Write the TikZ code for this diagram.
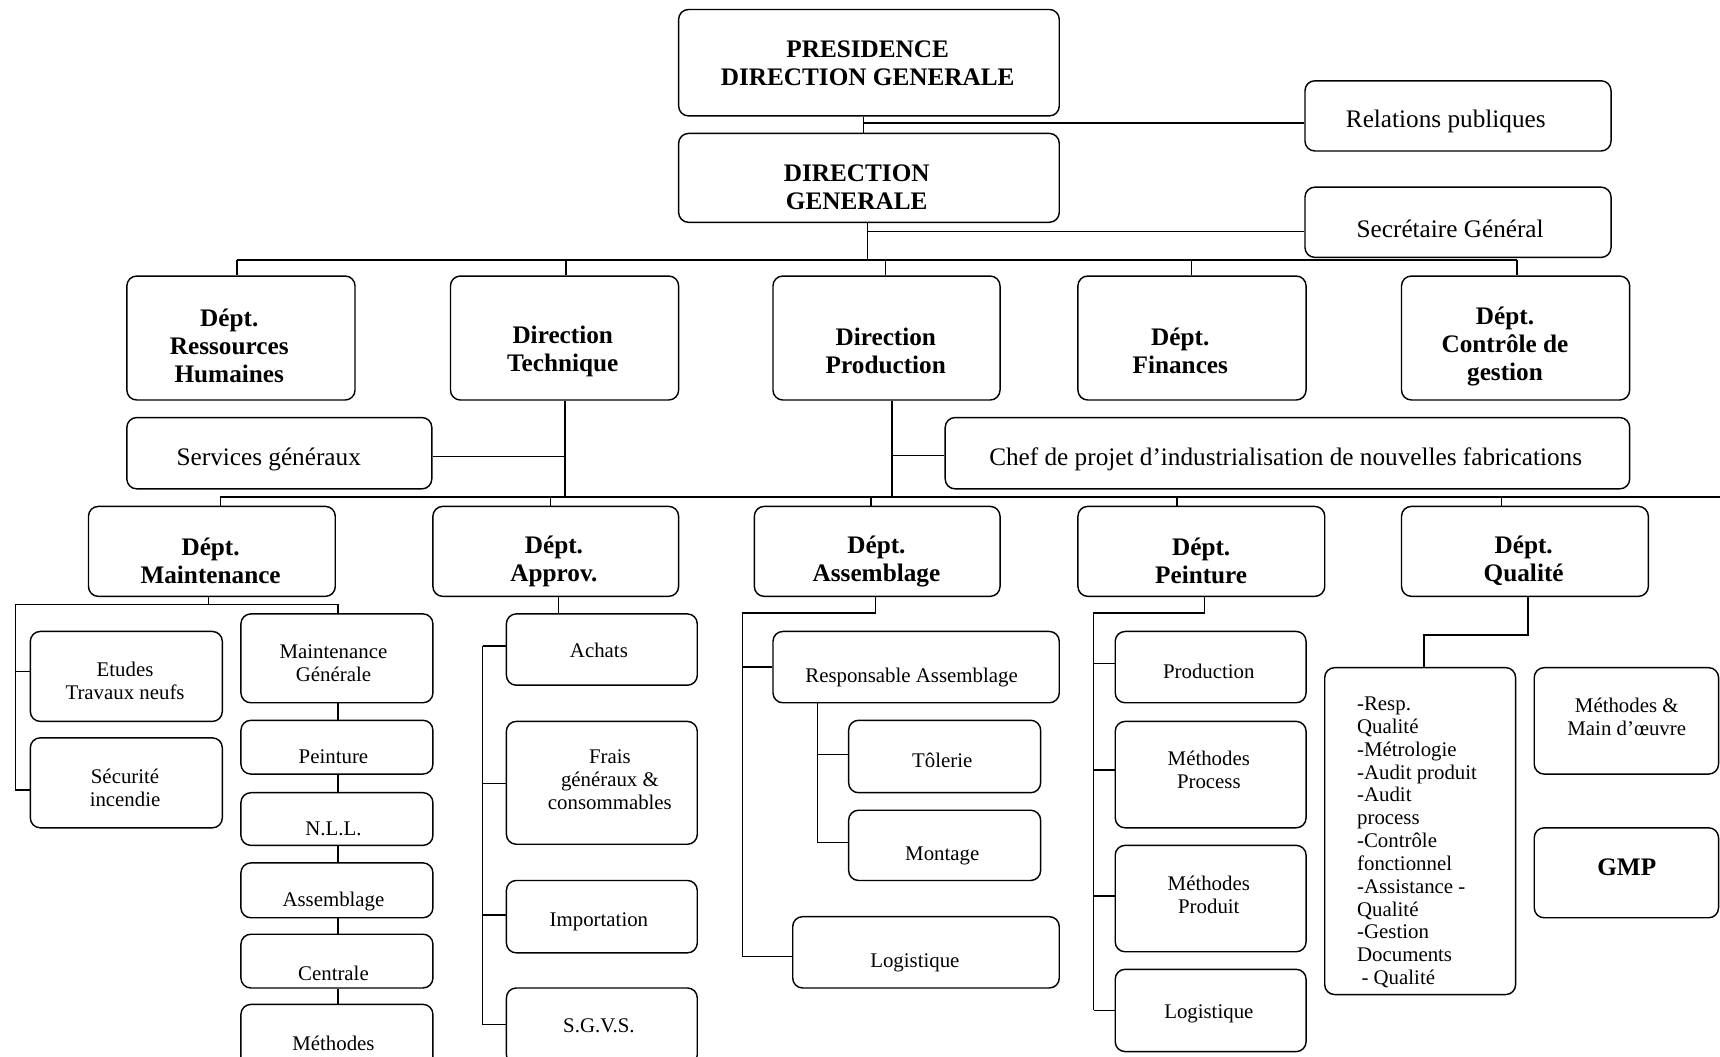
\documentclass[tikz,border=0pt]{standalone}
\usepackage{fontspec}
\setmainfont{Liberation Serif}
\newcommand\bx[5]{\node[boxst, minimum width=#4-#2, minimum height=#5-#3] (#1) at (#2,#3) {};}
\tikzset{
  boxst/.style={draw, line width=1.3pt, rounded corners=9pt, inner sep=0pt, anchor=north west},
  bigb/.style={font=\fontsize{23}{25.5}\selectfont\bfseries, align=center, inner sep=0pt},
  med/.style={font=\fontsize{23}{25}\selectfont, align=center, inner sep=0pt},
  sml/.style={font=\fontsize{19}{21}\selectfont, align=center, inner sep=0pt},
  ln/.style={line width=1.3pt}
}
\begin{document}
\begin{tikzpicture}[x=1pt,y=-1pt]
\useasboundingbox (0,0) rectangle (1568,963);
\clip (0,0) rectangle (1568,963);
% boxes
\bx{pres}{618}{8}{965}{105}
\bx{dg}{618}{121}{965}{202}
\bx{rp}{1189}{73}{1468}{137}
\bx{sg}{1189}{170}{1468}{234}
\bx{rh}{115}{251}{323}{364}
\bx{dt}{410}{251}{618}{364}
\bx{dp}{704}{251}{911}{364}
\bx{fin}{982}{251}{1190}{364}
\bx{cg}{1277}{251}{1485}{364}
\bx{svc}{115}{380}{393}{445}
\bx{chef}{861}{380}{1485}{445}
\bx{mnt}{80}{461}{305}{543}
\bx{app}{394}{461}{618}{543}
\bx{asm}{687}{461}{911}{543}
\bx{pei}{982}{461}{1207}{543}
\bx{qua}{1277}{461}{1502}{543}
\bx{etu}{27}{575}{202}{657}
\bx{sec}{27}{672}{202}{754}
\bx{mg}{219}{559}{394}{640}
\bx{mpei}{219}{656}{394}{705}
\bx{nll}{219}{722}{394}{770}
\bx{masm}{219}{786}{394}{836}
\bx{cen}{219}{851}{394}{900}
\bx{met}{219}{915}{394}{985}
\bx{ach}{461}{559}{635}{624}
\bx{fra}{461}{657}{635}{769}
\bx{imp}{461}{802}{635}{868}
\bx{sgv}{461}{900}{635}{970}
\bx{resp}{704}{575}{965}{640}
\bx{tol}{773}{656}{948}{722}
\bx{mon}{773}{738}{948}{802}
\bx{alog}{722}{835}{965}{900}
\bx{pprod}{1016}{575}{1190}{640}
\bx{pmpc}{1016}{657}{1190}{754}
\bx{pmpd}{1016}{770}{1190}{867}
\bx{plog}{1016}{883}{1190}{958}
\bx{resq}{1207}{608}{1381}{906}
\bx{mmo}{1398}{608}{1566}{705}
\bx{gmp}{1398}{754}{1566}{836}
% texts
\node[bigb] (tpres) at (791,57.5) {PRESIDENCE\\DIRECTION GENERALE};
\node[bigb] (tdg) at (781,170.5) {DIRECTION\\GENERALE};
\node[med] (trp) at (1318,110.5) {Relations publiques};
\node[med] (tsg) at (1322,208.5) {Secrétaire Général};
\node[bigb] (trh) at (209,315) {Dépt.\\Ressources\\Humaines};
\node[bigb] (tdt) at (513,320) {Direction\\Technique};
\node[bigb] (tdp) at (807.5,319.5) {Direction\\Production};
\node[bigb] (tfin) at (1076,319.5) {Dépt.\\Finances};
\node[bigb] (tcg) at (1372,315.5) {Dépt.\\Contrôle de\\gestion};
\node[med] (tsvc) at (245,419) {Services généraux};
\node[med] (tchef) at (1172,419) {Chef de projet d’industrialisation de nouvelles fabrications};
\node[bigb] (tmnt) at (192,511) {Dépt.\\Maintenance};
\node[bigb] (tapp) at (505,512) {Dépt.\\Approv.};
\node[bigb] (tasm) at (799,512) {Dépt.\\Assemblage};
\node[bigb] (tpei) at (1095,511) {Dépt.\\Peinture};
\node[bigb] (tqua) at (1389,511.5) {Dépt.\\Qualité};
\node[sml] (tetu) at (114,621) {Etudes\\Travaux neufs};
\node[sml] (tsec) at (114,718) {Sécurité\\incendie};
\node[sml] (tmg) at (304,604.5) {Maintenance\\Générale};
\node[sml] (tmpei) at (304,690) {Peinture};
\node[sml] (tnll) at (304,756) {N.L.L.};
\node[sml] (tmasm) at (304,822) {Assemblage};
\node[sml] (tcen) at (304,887) {Centrale};
\node[sml] (tmet) at (304,951) {Méthodes};
\node[sml] (tach) at (546,593) {Achats};
\node[sml] (tfra) at (556,711) {Frais\\généraux \&\\consommables};
\node[sml] (timp) at (546,840) {Importation};
\node[sml] (tsgv) at (546,935) {S.G.V.S.};
\node[sml] (tresp) at (831,617.5) {Responsable Assemblage};
\node[sml] (ttol) at (859,693) {Tôlerie};
\node[sml] (tmon) at (859,780.5) {Montage};
\node[sml] (talog) at (834,877.5) {Logistique};
\node[sml] (tpprod) at (1102,612) {Production};
\node[sml] (tpmpc) at (1102,701.5) {Méthodes\\Process};
\node[sml] (tpmpd) at (1102,815.5) {Méthodes\\Produit};
\node[sml] (tplog) at (1102,924.5) {Logistique};
\node[sml, align=left, anchor=west, font=\fontsize{19}{20.8}\selectfont] (tresq) at (1237,768)
  {-Resp.\\Qualité\\-Métrologie\\-Audit produit\\-Audit\\process\\-Contrôle\\fonctionnel\\-Assistance -\\Qualité\\-Gestion\\Documents\\\hspace{4pt}- Qualité};
\node[sml] (tmmo) at (1483,653.5) {Méthodes \&\\Main d’œuvre};
\node[bigb] (tgmp) at (1483,791) {GMP};
% top connectors
\coordinate (a0) at (787,112);
\draw[ln] (pres.south -| a0) -- (dg.north -| a0);
\draw[ln] (a0) -- (a0 -| rp.west);
\coordinate (a2) at (791,211);
\coordinate (bus) at (791,237);
\draw[ln] (dg.south -| bus) -- (bus);
\draw[ln] (a2) -- (a2 -| sg.west);
\coordinate (bL) at (216,237);
\coordinate (bR) at (1383,237);
\draw[ln] (bL) -- (bR);
\foreach \n/\x in {rh/216, dt/516, dp/807, fin/1086, cg/1383} {
  \coordinate (d\n) at (\x,237);
  \draw[ln] (d\n) -- (d\n |- \n.north);
}
% middle
\coordinate (t1) at (515,416);
\coordinate (lb1) at (515,453);
\draw[ln] (dt.south -| lb1) -- (lb1);
\draw[ln] (t1) -- (t1 -| svc.east);
\coordinate (p1) at (813,415);
\coordinate (lb2) at (813,453);
\draw[ln] (dp.south -| lb2) -- (lb2);
\draw[ln] (p1) -- (p1 -| chef.west);
\coordinate (lbL) at (201,453);
\coordinate (lbR) at (1570,453);
\draw[ln] (lbL) -- (lbR);
\foreach \n/\x in {mnt/201, app/502, asm/794, pei/1073, qua/1369} {
  \coordinate (e\n) at (\x,453);
  \draw[ln] (e\n) -- (e\n |- \n.north);
}
% maintenance
\coordinate (m0) at (190,551);
\coordinate (mL) at (14,551);
\coordinate (mR) at (308,551);
\coordinate (mt1) at (14,612);
\coordinate (mt2) at (14,720);
\draw[ln] (mnt.south -| m0) -- (m0);
\draw[ln] (mt2 -| sec.west) -- (mt2) -- (mL) -- (mR) -- (mR |- mg.north);
\draw[ln] (mt1) -- (mt1 -| etu.west);
\foreach \a/\b in {mg/mpei, mpei/nll, nll/masm, masm/cen, cen/met}
  \draw[ln] (\a.south -| mR) -- (\b.north -| mR);
% approv
\coordinate (ap0) at (509,559);
\draw[ln] (app.south -| ap0) -- (ach.north -| ap0);
\coordinate (apT) at (440,589);
\coordinate (apB) at (440,934);
\draw[ln] (apT) -- (apB);
\foreach \n/\y in {ach/589, fra/714, imp/834, sgv/934} {
  \coordinate (at\n) at (440,\y);
  \draw[ln] (at\n) -- (at\n -| \n.west);
}
% assemblage
\coordinate (as0) at (798,559);
\coordinate (as1) at (677,559);
\coordinate (as2) at (677,608);
\coordinate (as3) at (677,872);
\draw[ln] (asm.south -| as0) -- (as0) -- (as1) -- (as3) -- (as3 -| alog.west);
\draw[ln] (as2) -- (as2 -| resp.west);
\coordinate (rs1) at (745,688);
\coordinate (rs2) at (745,768);
\draw[ln] (resp.south -| rs2) -- (rs2) -- (rs2 -| mon.west);
\draw[ln] (rs1) -- (rs1 -| tol.west);
% peinture
\coordinate (pe0) at (1098,559);
\coordinate (pe1) at (997,559);
\coordinate (pe2) at (997,921);
\draw[ln] (pei.south -| pe0) -- (pe0) -- (pe1) -- (pe2);
\foreach \n/\y in {pprod/605, pmpc/702, pmpd/817, plog/921} {
  \coordinate (pt\n) at (997,\y);
  \draw[ln] (pt\n) -- (pt\n -| \n.west);
}
% qualite
\coordinate (q0) at (1393,579);
\coordinate (q1) at (1298,579);
\draw[ln] (qua.south -| q0) -- (q0) -- (q1) -- (q1 |- resq.north);
\end{tikzpicture}
\end{document}
